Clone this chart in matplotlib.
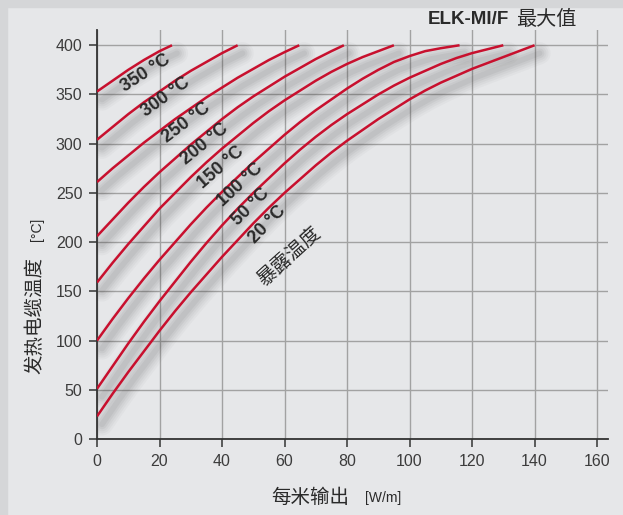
import matplotlib
matplotlib.use('Agg')
import matplotlib.pyplot as plt
from matplotlib import transforms
from matplotlib.patches import Rectangle

plt.rcParams['font.family'] = ['Liberation Sans', 'Noto Sans CJK SC', 'DejaVu Sans']

# exposure temperature curves, every 5 W/m
# power per metre [W/m] -> heating cable temperature [°C]
x_350 = [0, 5, 10, 15, 20, 24]
y_350 = [353, 364, 375, 385, 394, 400]
x_300 = [0, 5, 10, 15, 20, 25, 30, 35, 40, 45]
y_300 = [304, 317, 330, 342, 353, 364, 374, 383, 392, 400]
x_250 = [0, 5, 10, 15, 20, 25, 30, 35, 40, 45, 50, 55, 60, 64.7]
y_250 = [261, 275, 288, 301, 313, 325, 336, 347, 357, 367, 376, 385, 393, 400]
x_200 = [0, 5, 10, 15, 20, 25, 30, 35, 40, 45, 50, 55, 60, 65, 70, 75, 79]
y_200 = [206, 223, 240, 256, 271, 285, 299, 312, 325, 337, 348, 358, 368, 377, 386, 394, 400]
x_150 = [0, 5, 10, 15, 20, 25, 30, 35, 40, 45, 50, 55, 60, 65, 70, 75, 80, 85, 90, 95]
y_150 = [159, 179, 198, 216, 234, 250, 266, 281, 295, 308, 321, 333, 344, 354, 364,
         373, 381, 388, 394, 400]
x_100 = [0, 5, 10, 15, 20, 25, 30, 35, 40, 45, 50, 55, 60, 65, 70, 75, 80, 85, 90,
         95, 100, 105, 110, 116]
y_100 = [100, 122, 143, 163, 182, 200, 218, 235, 251, 266, 281, 295, 309, 322, 334,
         345, 356, 366, 375, 383, 389, 394, 397, 400]
x_50 = [0, 5, 10, 15, 20, 25, 30, 35, 40, 45, 50, 55, 60, 65, 70, 75, 80, 85, 90,
        95, 100, 105, 110, 115, 120, 125, 130]
y_50 = [51, 74, 97, 119, 140, 160, 180, 199, 217, 234, 250, 265, 280, 294, 307, 319,
        330, 340, 350, 359, 367, 374, 381, 387, 392, 396, 400]
x_20 = [0, 5, 10, 15, 20, 25, 30, 35, 40, 45, 50, 55, 60, 65, 70, 75, 80, 85, 90,
        95, 100, 105, 110, 115, 120, 125, 130, 135, 140]
y_20 = [23, 46, 68, 89, 110, 130, 149, 167, 185, 202, 219, 235, 250, 264, 278, 291,
        303, 314, 325, 335, 345, 354, 362, 369, 376, 382, 388, 394, 400]

curves = [(x_350, y_350), (x_300, y_300), (x_250, y_250), (x_200, y_200),
          (x_150, y_150), (x_100, y_100), (x_50, y_50), (x_20, y_20)]

labels = ['350 °C', '300 °C', '250 °C', '200 °C', '150 °C', '100 °C', '50 °C', '20 °C']
label_x = [15.5, 21.9, 28.6, 34.6, 39.5, 45.9, 49.1, 54.5]
label_y = [372, 347.6, 321, 300, 276, 258, 236, 217.5]
label_rot = [33, 36, 37, 39, 41, 43, 45, 46]

xticks = [0, 20, 40, 60, 80, 100, 120, 140, 160]
yticks = [0, 50, 100, 150, 200, 250, 300, 350, 400]

bg = '#e6e7e9'
red = '#c8102e'
dark = '#333333'
cjk = ['Noto Sans CJK SC', 'DejaVu Sans']

fig = plt.figure(figsize=(6.23, 5.15), dpi=100, facecolor=bg)
fig.patches.append(Rectangle((0, 1 - 7 / 515), 1, 7 / 515, transform=fig.transFigure,
                             color='#d5d6d8', zorder=0))
fig.patches.append(Rectangle((0, 0), 7 / 623, 1, transform=fig.transFigure,
                             color='#d5d6d8', zorder=0))

ax = fig.add_axes([97 / 623, 76 / 515, 511 / 623, 409 / 515])
ax.set_facecolor(bg)
ax.set_xlim(0, 163.5)
ax.set_ylim(0, 415.5)

for s in ['top', 'right']:
    ax.spines[s].set_visible(False)
for s in ['left', 'bottom']:
    ax.spines[s].set_color(dark)
    ax.spines[s].set_linewidth(1.3)

ax.set_xticks(xticks)
ax.set_yticks(yticks)
ax.tick_params(direction='out', length=5.5, width=1.1, color=dark,
               labelsize=11.5, labelcolor='#3c3c3c', pad=5)
ax.grid(color='#a2a2a2', linewidth=1.0)
ax.set_axisbelow(True)

# soft drop shadow under each curve
shadow_tr = ax.transData + transforms.ScaledTranslation(0.05, -0.08, fig.dpi_scale_trans)
for xs, ys in curves:
    for lw, a in [(16, 0.03), (13, 0.035), (10, 0.04), (7, 0.05), (4, 0.06)]:
        ax.plot(xs, ys, color='#333333', lw=lw, alpha=a, transform=shadow_tr,
                solid_capstyle='round', solid_joinstyle='round', zorder=2)
    ax.plot(xs, ys, color=red, lw=1.8, zorder=3, solid_capstyle='butt',
            solid_joinstyle='round')

for t, lx, ly, r in zip(labels, label_x, label_y, label_rot):
    ax.text(lx, ly, t, rotation=r, rotation_mode='anchor', ha='center', va='center',
            fontsize=13, fontweight='bold', color='#2a2a2a', zorder=4)

ax.text(61.5, 186, '暴露温度', rotation=42, rotation_mode='anchor', ha='center', va='center',
        fontsize=14, color='#2a2a2a', family=cjk, zorder=4)

# title
fig.text(509 / 623, 1 - 19.5 / 515, 'ELK-MI/F', ha='right', va='center',
         fontsize=13.5, fontweight='bold', color='#2a2a2a')
fig.text(516 / 623, 1 - 19.5 / 515, '最大值', ha='left', va='center',
         fontsize=14.5, color='#2a2a2a', family=cjk)

# axis labels
fig.text(310 / 623, 1 - 497 / 515, '每米输出', ha='center', va='center',
         fontsize=14, color='#2a2a2a', family=cjk)
fig.text(383 / 623, 1 - 498 / 515, '[W/m]', ha='center', va='center',
         fontsize=10, color='#2a2a2a')
fig.text(35 / 623, 1 - 315 / 515, '发热电缆温度', ha='center', va='center', rotation=90,
         fontsize=14, color='#2a2a2a', family=cjk)
fig.text(37 / 623, 1 - 229 / 515, '[°C]', ha='center', va='center', rotation=90,
         fontsize=10, color='#2a2a2a')

fig.savefig('out.png', dpi=100, facecolor=bg)
